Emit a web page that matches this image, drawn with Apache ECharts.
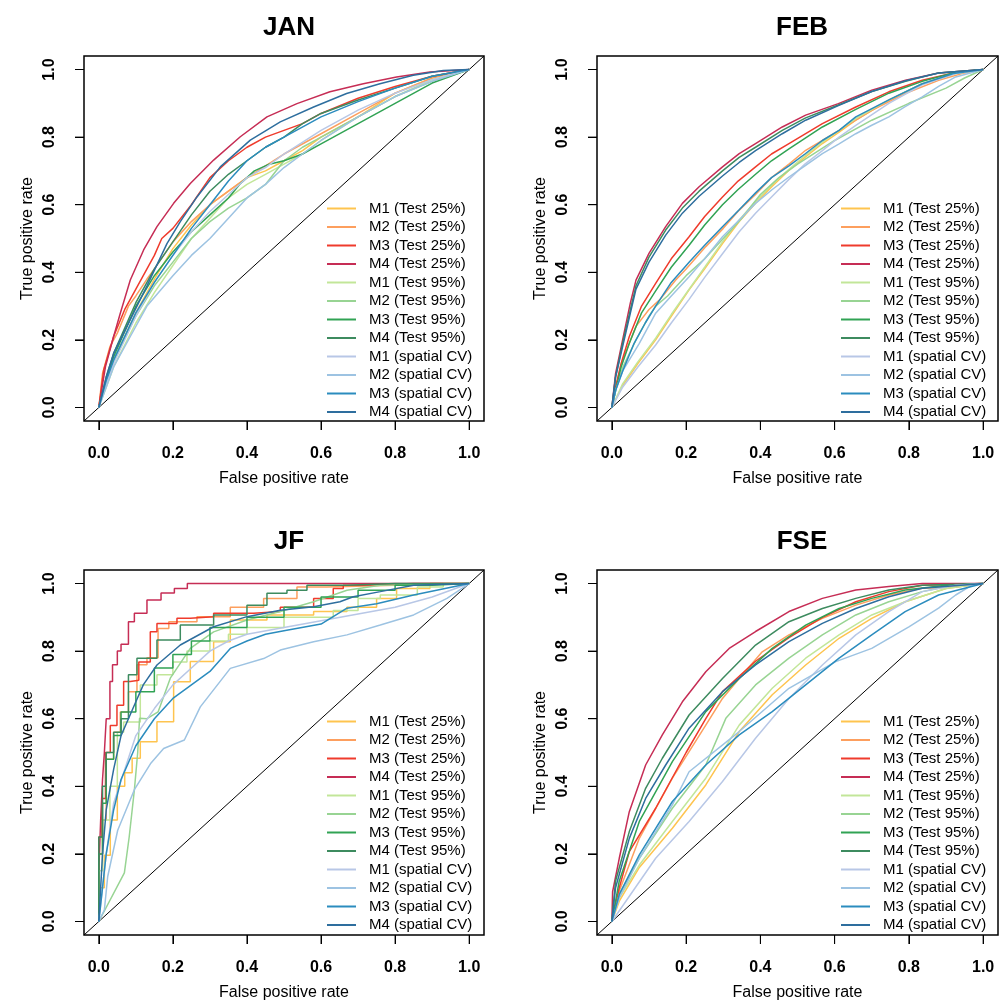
<!DOCTYPE html>
<html>
<head>
<meta charset="utf-8">
<script src="https://cdn.jsdelivr.net/npm/echarts@6/dist/echarts.min.js"></script>
<style>html,body{margin:0;padding:0}#c{width:1005px;height:1003px}</style>
</head>
<body>
<div id="c"></div>
<script>
const seriesNames = ['M1 (Test 25%)','M2 (Test 25%)','M3 (Test 25%)','M4 (Test 25%)','M1 (Test 95%)','M2 (Test 95%)','M3 (Test 95%)','M4 (Test 95%)','M1 (spatial CV)','M2 (spatial CV)','M3 (spatial CV)','M4 (spatial CV)'];
const seriesColors = ['#FEC44F','#FD9F5E','#EF3B2C','#C62D55','#C2E699','#98D493','#31A354','#3D8B5F','#B8C7E6','#9DC3E2','#2B8CBE','#2E6E9E'];
const panelTitles = ['JAN','FEB','JF','FSE'];
const tickValues = [0,0.2,0.4,0.6,0.8,1.0];
const axisMin = -0.04, axisMax = 1.04;
const diagonal = [[-0.04,-0.04],[1.04,1.04]];

// [false positive rate, true positive rate] per curve, order = seriesNames
const janCurves = [
 [[0,0],[.02,.08],[.04,.14],[.1,.28],[.15,.38],[.2,.47],[.25,.54],[.3,.6],[.35,.64],[.4,.68],[.45,.7],[.5,.73],[.55,.76],[.6,.8],[.65,.83],[.7,.86],[.8,.93],[.9,.975],[1,1]],
 [[0,0],[.01,.1],[.03,.18],[.05,.22],[.08,.3],[.1,.33],[.13,.38],[.15,.41],[.2,.49],[.25,.55],[.3,.6],[.35,.64],[.4,.68],[.5,.75],[.6,.81],[.7,.87],[.8,.93],[.9,.975],[1,1]],
 [[0,0],[.013,.11],[.04,.21],[.07,.29],[.1,.35],[.13,.41],[.15,.45],[.17,.5],[.2,.53],[.25,.6],[.3,.68],[.35,.73],[.4,.77],[.45,.8],[.5,.82],[.55,.84],[.6,.87],[.7,.915],[.8,.95],[.9,.98],[1,1]],
 [[0,0],[.018,.121],[.04,.21],[.058,.279],[.085,.377],[.121,.466],[.157,.535],[.202,.604],[.247,.663],[.31,.732],[.382,.801],[.454,.86],[.535,.899],[.624,.934],[.714,.958],[.804,.978],[.894,.993],[1,1]],
 [[0,0],[.02,.06],[.04,.12],[.1,.25],[.15,.34],[.2,.42],[.25,.5],[.3,.56],[.35,.62],[.4,.66],[.45,.69],[.5,.72],[.55,.75],[.6,.79],[.7,.86],[.8,.92],[.9,.97],[1,1]],
 [[0,0],[.02,.08],[.04,.14],[.1,.27],[.15,.36],[.2,.43],[.25,.5],[.3,.55],[.35,.59],[.4,.62],[.45,.66],[.5,.73],[.55,.77],[.6,.8],[.7,.86],[.8,.92],[.9,.965],[1,1]],
 [[0,0],[.02,.08],[.04,.15],[.1,.3],[.15,.39],[.2,.46],[.25,.52],[.3,.57],[.35,.62],[.38,.66],[.42,.7],[.46,.72],[.5,.73],[.55,.75],[.6,.78],[.7,.84],[.8,.9],[.9,.96],[1,1]],
 [[0,0],[.02,.09],[.04,.16],[.1,.31],[.15,.41],[.2,.49],[.25,.57],[.3,.64],[.35,.69],[.4,.73],[.45,.77],[.5,.8],[.55,.84],[.6,.87],[.7,.91],[.8,.945],[.9,.98],[1,1]],
 [[0,0],[.02,.07],[.04,.13],[.1,.27],[.15,.37],[.2,.45],[.25,.52],[.3,.58],[.35,.63],[.4,.68],[.45,.71],[.5,.75],[.6,.82],[.7,.88],[.8,.93],[.9,.97],[1,1]],
 [[0,0],[.02,.06],[.04,.12],[.085,.21],[.13,.3],[.2,.39],[.25,.45],[.3,.5],[.35,.56],[.4,.62],[.45,.66],[.5,.71],[.55,.75],[.6,.79],[.7,.86],[.8,.92],[.9,.965],[1,1]],
 [[0,0],[.02,.08],[.04,.14],[.1,.28],[.15,.37],[.2,.45],[.25,.53],[.3,.6],[.35,.67],[.4,.73],[.45,.77],[.5,.8],[.6,.86],[.7,.905],[.8,.945],[.9,.98],[1,1]],
 [[0,0],[.02,.09],[.04,.16],[.085,.26],[.13,.36],[.184,.485],[.22,.55],[.265,.623],[.328,.712],[.409,.791],[.49,.845],[.58,.889],[.669,.929],[.759,.958],[.849,.983],[.93,.997],[1,1]]
];
const febCurves = [
 [[0,0],[.029,.065],[.07,.13],[.118,.2],[.16,.27],[.208,.348],[.25,.41],[.298,.485],[.343,.55],[.387,.604],[.432,.655],[.477,.702],[.52,.74],[.567,.781],[.612,.815],[.657,.85],[.746,.909],[.836,.958],[.926,.988],[1,1]],
 [[0,0],[.01,.06],[.029,.14],[.065,.24],[.1,.29],[.13,.32],[.172,.377],[.2,.41],[.253,.476],[.3,.53],[.343,.584],[.387,.63],[.432,.682],[.477,.72],[.522,.761],[.612,.82],[.7,.879],[.79,.929],[.88,.968],[.95,.99],[1,1]],
 [[0,0],[.01,.06],[.025,.13],[.047,.21],[.08,.3],[.118,.367],[.16,.44],[.208,.505],[.25,.565],[.298,.623],[.34,.67],[.387,.712],[.43,.75],[.477,.781],[.567,.84],[.657,.889],[.746,.934],[.836,.968],[.92,.99],[1,1]],
 [[0,0],[.01,.1],[.029,.2],[.05,.31],[.065,.377],[.1,.456],[.145,.535],[.19,.604],[.235,.653],[.298,.712],[.343,.751],[.387,.781],[.459,.83],[.522,.865],[.61,.899],[.7,.939],[.791,.968],[.88,.99],[1,1]],
 [[0,0],[.029,.07],[.07,.135],[.118,.205],[.16,.275],[.208,.35],[.25,.415],[.298,.49],[.343,.555],[.387,.61],[.432,.66],[.477,.705],[.52,.745],[.567,.785],[.612,.82],[.657,.855],[.746,.91],[.836,.958],[.926,.988],[1,1]],
 [[0,0],[.01,.05],[.03,.12],[.065,.2],[.1,.27],[.118,.3],[.15,.33],[.2,.39],[.25,.44],[.3,.5],[.35,.56],[.4,.63],[.45,.68],[.5,.72],[.6,.79],[.7,.85],[.8,.9],[.9,.945],[.95,.975],[1,1]],
 [[0,0],[.01,.05],[.025,.12],[.047,.19],[.08,.28],[.118,.345],[.16,.415],[.208,.48],[.25,.54],[.298,.6],[.34,.645],[.387,.69],[.43,.73],[.477,.765],[.567,.83],[.657,.882],[.746,.93],[.836,.965],[.92,.99],[1,1]],
 [[0,0],[.01,.09],[.029,.19],[.05,.29],[.065,.36],[.1,.445],[.145,.525],[.19,.59],[.235,.64],[.298,.7],[.343,.74],[.387,.77],[.459,.82],[.522,.857],[.61,.895],[.7,.935],[.791,.965],[.88,.99],[1,1]],
 [[0,0],[.029,.06],[.07,.12],[.118,.185],[.16,.25],[.208,.32],[.25,.385],[.298,.455],[.343,.52],[.387,.575],[.432,.625],[.477,.675],[.52,.72],[.567,.76],[.612,.8],[.657,.835],[.746,.9],[.836,.955],[.926,.988],[1,1]],
 [[0,0],[.01,.05],[.03,.11],[.074,.19],[.118,.279],[.16,.33],[.208,.387],[.25,.44],[.298,.505],[.343,.555],[.387,.604],[.432,.645],[.477,.682],[.52,.715],[.567,.751],[.612,.78],[.657,.81],[.7,.835],[.746,.86],[.79,.89],[.836,.919],[.88,.95],[.926,.978],[1,1]],
 [[0,0],[.01,.05],[.03,.11],[.06,.19],[.09,.25],[.118,.3],[.16,.37],[.208,.43],[.25,.48],[.298,.535],[.343,.585],[.387,.635],[.43,.68],[.477,.715],[.52,.75],[.567,.79],[.612,.82],[.657,.86],[.746,.91],[.836,.958],[.92,.988],[1,1]],
 [[0,0],[.01,.09],[.029,.18],[.05,.28],[.065,.35],[.1,.43],[.145,.51],[.19,.575],[.235,.625],[.298,.685],[.343,.725],[.387,.76],[.459,.81],[.522,.85],[.61,.893],[.7,.935],[.791,.967],[.88,.99],[1,1]]
];
const jfCurves = [
 [[0,0],[.015,.1],[.031,.196],[.05,.3],[.07,.4],[.09,.44],[.112,.483],[.157,.532],[.202,.591],[.247,.709],[.31,.769],[.355,.828],[.454,.892],[.58,.907],[.67,.917],[.75,.93],[.804,.956],[.894,.985],[1,1]],
 [[0,0],[.01,.2],[.02,.3],[.04,.48],[.058,.56],[.08,.62],[.103,.68],[.13,.76],[.16,.78],[.189,.867],[.265,.887],[.355,.902],[.445,.93],[.535,.956],[.615,.99],[.8,.995],[1,1]],
 [[0,0],[.008,.25],[.018,.364],[.031,.5],[.049,.58],[.067,.64],[.085,.71],[.108,.714],[.139,.768],[.157,.857],[.211,.882],[.247,.897],[.31,.902],[.418,.912],[.49,.917],[.58,.93],[.633,.956],[.66,.985],[.714,.995],[.85,1],[1,1]],
 [[0,0],[.005,.15],[.01,.3],[.015,.42],[.02,.5],[.03,.6],[.037,.71],[.05,.76],[.06,.8],[.08,.82],[.096,.887],[.13,.912],[.168,.951],[.204,.972],[.239,.985],[.306,1],[1,1]],
 [[0,0],[.01,.15],[.03,.3],[.05,.4],[.067,.56],[.112,.59],[.157,.7],[.2,.73],[.238,.768],[.3,.8],[.35,.83],[.4,.85],[.5,.87],[.633,.9],[.7,.92],[.76,.956],[.86,.966],[.93,.99],[1,1]],
 [[0,0],[.069,.144],[.082,.25],[.096,.389],[.105,.5],[.11,.601],[.13,.6],[.16,.62],[.193,.72],[.247,.808],[.31,.857],[.4,.892],[.49,.917],[.58,.946],[.67,.98],[.76,.995],[1,1]],
 [[0,0],[.01,.2],[.02,.35],[.04,.48],[.06,.55],[.1,.62],[.15,.68],[.2,.75],[.25,.79],[.3,.83],[.4,.87],[.5,.9],[.6,.93],[.7,.96],[.8,.98],[.9,.995],[1,1]],
 [[0,0],[.01,.25],[.02,.4],[.04,.5],[.06,.56],[.08,.6],[.103,.73],[.157,.779],[.22,.833],[.31,.877],[.4,.907],[.454,.936],[.508,.971],[.562,.98],[.67,.995],[.8,1],[1,1]],
 [[0,0],[.02,.2],[.04,.35],[.07,.45],[.1,.55],[.15,.63],[.2,.7],[.25,.75],[.3,.8],[.35,.83],[.4,.85],[.5,.87],[.6,.89],[.7,.91],[.8,.93],[.9,.96],[1,1]],
 [[0,0],[.015,.034],[.024,.133],[.051,.27],[.096,.39],[.141,.469],[.175,.512],[.231,.537],[.274,.635],[.355,.749],[.445,.778],[.49,.803],[.58,.828],[.67,.848],[.76,.877],[.85,.907],[.94,.956],[1,1]],
 [[0,0],[.02,.2],[.04,.33],[.06,.42],[.1,.52],[.15,.6],[.2,.66],[.25,.7],[.3,.74],[.355,.808],[.4,.83],[.45,.85],[.5,.86],[.6,.88],[.67,.927],[.75,.94],[.85,.966],[1,1]],
 [[0,0],[.01,.2],[.02,.33],[.04,.45],[.06,.55],[.08,.6],[.1,.65],[.12,.7],[.157,.759],[.22,.818],[.31,.872],[.4,.902],[.49,.921],[.58,.931],[.651,.946],[.687,.961],[.76,.976],[.85,.995],[1,1]]
];
const fseCurves = [
 [[0,0],[.02,.06],[.074,.16],[.163,.276],[.253,.404],[.343,.562],[.432,.671],[.522,.759],[.612,.838],[.7,.897],[.79,.946],[.9,.985],[1,1]],
 [[0,0],[.02,.09],[.074,.246],[.163,.424],[.253,.581],[.298,.66],[.343,.719],[.405,.798],[.477,.848],[.567,.897],[.657,.936],[.746,.966],[.836,.986],[.926,.99],[1,1]],
 [[0,0],[.02,.1],[.047,.207],[.118,.335],[.2,.5],[.253,.6],[.298,.68],[.387,.77],[.477,.84],[.567,.9],[.657,.946],[.746,.976],[.836,.995],[1,1]],
 [[0,0],[.002,.088],[.02,.187],[.047,.325],[.091,.463],[.136,.552],[.19,.65],[.253,.739],[.316,.808],[.387,.858],[.477,.917],[.567,.956],[.657,.981],[.746,.991],[.836,1],[1,1]],
 [[0,0],[.02,.07],[.074,.167],[.163,.296],[.253,.424],[.343,.581],[.432,.69],[.522,.779],[.612,.848],[.7,.907],[.79,.946],[.9,.985],[1,1]],
 [[0,0],[.02,.08],[.074,.187],[.163,.335],[.253,.463],[.307,.601],[.387,.7],[.477,.779],[.567,.848],[.657,.907],[.746,.946],[.836,.976],[.92,.995],[1,1]],
 [[0,0],[.02,.12],[.074,.296],[.163,.473],[.253,.621],[.343,.719],[.432,.808],[.522,.877],[.612,.926],[.7,.956],[.79,.981],[.9,.995],[1,1]],
 [[0,0],[.01,.12],[.047,.266],[.091,.394],[.136,.483],[.208,.611],[.298,.719],[.387,.818],[.477,.887],[.567,.926],[.657,.956],[.746,.981],[.836,.995],[1,1]],
 [[0,0],[.118,.187],[.208,.296],[.298,.414],[.387,.542],[.477,.66],[.567,.759],[.657,.848],[.746,.917],[.836,.976],[.926,.995],[1,1]],
 [[0,0],[.02,.07],[.074,.187],[.163,.345],[.208,.443],[.343,.562],[.477,.69],[.603,.769],[.7,.808],[.8,.872],[.88,.927],[.926,.966],[.97,.995],[1,1]],
 [[0,0],[.02,.08],[.074,.197],[.163,.355],[.253,.463],[.343,.552],[.432,.621],[.522,.7],[.612,.779],[.7,.848],[.79,.917],[.88,.966],[1,1]],
 [[0,0],[.01,.1],[.047,.246],[.091,.364],[.145,.463],[.208,.572],[.298,.68],[.387,.759],[.477,.828],[.567,.882],[.657,.926],[.746,.961],[.836,.986],[1,1]]
];
const panelCurves = [janCurves, febCurves, jfCurves, fseCurves];

const FONT = "'Liberation Sans', Arial, Helvetica, sans-serif";
const grids = [
  {left: 84, top: 56, width: 400, height: 365},
  {left: 597, top: 56, width: 401, height: 365},
  {left: 84, top: 570, width: 400, height: 365},
  {left: 597, top: 570, width: 401, height: 365}
];
const titleX = [284, 797, 284, 797];
const titleY = [10, 10, 524, 524];

// Tick labels carry their own outward tick mark (rich-text token) so the marks
// sit exactly at the label positions the axis computes.
const labelRich = {
  t: {width: 1, height: 9, lineHeight: 9, backgroundColor: '#000', fontSize: 1},
  xs: {height: 16, lineHeight: 16, fontSize: 1},
  ys: {height: 17, lineHeight: 17, fontSize: 1},
  l: {fontFamily: FONT, fontSize: 16, lineHeight: 16, fontWeight: 'bold', color: '#000'}
};

const option = {
  animation: false,
  backgroundColor: '#ffffff',
  title: panelTitles.map((t, i) => ({
    text: t, left: titleX[i], top: titleY[i], textAlign: 'center',
    textStyle: {fontFamily: FONT, fontSize: 26, fontWeight: 'bold', color: '#000'}
  })),
  grid: grids.map(g => Object.assign({show: true, borderColor: '#000', borderWidth: 1.5}, g)),
  legend: grids.map((g, i) => ({
    orient: 'vertical',
    left: (i % 2 === 0) ? 322 : 836,
    top: (i < 2) ? 196 : 709,
    padding: 5,
    icon: 'rect',
    itemWidth: 29, itemHeight: 2, itemGap: 3.5,
    selectedMode: false,
    data: seriesNames,
    textStyle: {fontFamily: FONT, fontSize: 15, color: '#000', lineHeight: 15, padding: [0, 0, 0, 8]}
  })),
  xAxis: grids.map((g, i) => ({
    type: 'value', gridIndex: i, min: axisMin, max: axisMax,
    axisLine: {show: false, onZero: false},
    axisTick: {show: true, customValues: tickValues, length: 9, lineStyle: {color: '#000', width: 1}},
    axisLabel: {customValues: tickValues, margin: 0, align: 'center',
      formatter: v => '{t| }\n{xs| }\n{l|' + v.toFixed(1) + '}', rich: labelRich},
    splitLine: {show: false},
    name: 'False positive rate', nameLocation: 'middle', nameGap: 50,
    nameTextStyle: {fontFamily: FONT, fontSize: 16, color: '#000'}
  })),
  yAxis: grids.map((g, i) => ({
    type: 'value', gridIndex: i, min: axisMin, max: axisMax,
    axisLine: {show: false, onZero: false},
    axisTick: {show: true, customValues: tickValues, length: 9, lineStyle: {color: '#000', width: 1}},
    axisLabel: {customValues: tickValues, margin: 0, rotate: 90, align: 'center',
      formatter: v => '{l|' + v.toFixed(1) + '}\n{ys| }\n{t| }', rich: labelRich},
    splitLine: {show: false},
    name: 'True positive rate', nameLocation: 'middle', nameGap: 48, nameRotate: 90,
    nameTextStyle: {fontFamily: FONT, fontSize: 16, color: '#000'}
  })),
  series: []
};

panelCurves.forEach((curves, p) => {
  option.series.push({
    type: 'line', name: 'diag', xAxisIndex: p, yAxisIndex: p, data: diagonal,
    symbol: 'none', silent: true, lineStyle: {color: '#000', width: 1}, itemStyle: {color: '#000'}
  });
  curves.forEach((d, k) => {
    const s = {
      type: 'line', name: seriesNames[k], xAxisIndex: p, yAxisIndex: p, data: d,
      symbol: 'none', lineStyle: {color: seriesColors[k], width: 1.5}, itemStyle: {color: seriesColors[k]}
    };
    if (p === 2 && k < 8 && k !== 5) s.step = 'start';
    option.series.push(s);
  });
});

const chart = echarts.init(document.getElementById('c'), null, {renderer: 'canvas'});
chart.setOption(option);
</script>
</body>
</html>
